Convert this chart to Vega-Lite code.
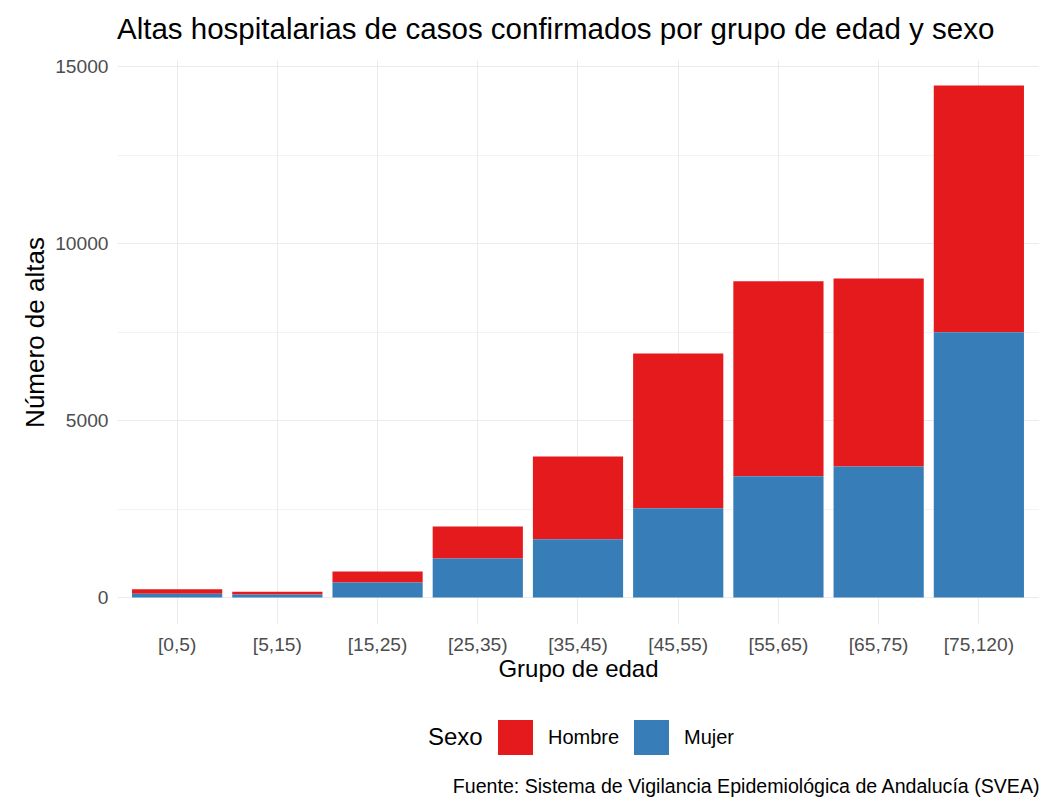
{
  "$schema": "https://vega.github.io/schema/vega-lite/v6.json",
  "autosize": {"type": "none"},
  "padding": {"left": 117, "top": 60, "right": 0, "bottom": 182},
  "width": 922,
  "height": 563,
  "background": "white",
  "config": {
    "font": "Liberation Sans",
    "view": {"stroke": null},
    "axis": {"domain": false, "ticks": false, "labelColor": "#4D4D4D", "labelFontSize": 19.2, "titleFontSize": 24, "titleFontWeight": "normal", "titleColor": "#000000", "gridColor": "#EBEBEB"}
  },
  "title": {
    "text": "Altas hospitalarias de casos confirmados por grupo de edad y sexo",
    "anchor": "start",
    "fontSize": 29.5,
    "fontWeight": "normal",
    "color": "#000000",
    "offset": 12,
    "frame": "group"
  },
  "data": {
    "values": [
      {"grupo": "[0,5)", "sexo": "Hombre", "altas": 130},
      {"grupo": "[0,5)", "sexo": "Mujer", "altas": 100},
      {"grupo": "[5,15)", "sexo": "Hombre", "altas": 80},
      {"grupo": "[5,15)", "sexo": "Mujer", "altas": 80},
      {"grupo": "[15,25)", "sexo": "Hombre", "altas": 310},
      {"grupo": "[15,25)", "sexo": "Mujer", "altas": 420},
      {"grupo": "[25,35)", "sexo": "Hombre", "altas": 900},
      {"grupo": "[25,35)", "sexo": "Mujer", "altas": 1100},
      {"grupo": "[35,45)", "sexo": "Hombre", "altas": 2340},
      {"grupo": "[35,45)", "sexo": "Mujer", "altas": 1640},
      {"grupo": "[45,55)", "sexo": "Hombre", "altas": 4370},
      {"grupo": "[45,55)", "sexo": "Mujer", "altas": 2520},
      {"grupo": "[55,65)", "sexo": "Hombre", "altas": 5510},
      {"grupo": "[55,65)", "sexo": "Mujer", "altas": 3420},
      {"grupo": "[65,75)", "sexo": "Hombre", "altas": 5310},
      {"grupo": "[65,75)", "sexo": "Mujer", "altas": 3700},
      {"grupo": "[75,120)", "sexo": "Hombre", "altas": 6970},
      {"grupo": "[75,120)", "sexo": "Mujer", "altas": 7490}
    ]
  },
  "resolve": {"axis": {"x": "independent"}},
  "layer": [
    {
      "mark": {"type": "bar"},
      "encoding": {
        "x": {
          "field": "grupo", "type": "nominal",
          "sort": ["[0,5)", "[5,15)", "[15,25)", "[25,35)", "[35,45)", "[45,55)", "[55,65)", "[65,75)", "[75,120)"],
          "scale": {"paddingInner": 0.1, "paddingOuter": 0.15},
          "axis": {"title": "Grupo de edad", "labelAngle": 0, "grid": true, "bandPosition": 0.5, "labelPadding": 12, "titlePadding": 3}
        },
        "y": {
          "field": "altas", "type": "quantitative", "aggregate": "sum",
          "stack": "zero",
          "scale": {"domain": [-723, 15183], "nice": false, "zero": false},
          "axis": {
            "title": "Número de altas",
            "titleFontSize": 26,
            "titleY": 272,
            "format": "d",
            "values": [0, 2500, 5000, 7500, 10000, 12500, 15000],
            "labelExpr": "datum.value % 5000 === 0 ? datum.label : ''",
            "gridWidth": {"condition": {"test": "datum.value % 5000 === 0", "value": 1.2}, "value": 0.6},
            "labelPadding": 9,
            "titlePadding": 6
          }
        },
        "color": {
          "field": "sexo", "type": "nominal",
          "scale": {"domain": ["Hombre", "Mujer"], "range": ["#E41A1C", "#377EB8"]},
          "legend": {
            "title": "Sexo", "orient": "none", "legendX": 311, "legendY": 660,
            "direction": "horizontal", "titleOrient": "left", "titleFontSize": 24, "titleFontWeight": "normal", "titleColor": "#000000",
            "labelFontSize": 20, "labelColor": "#000000", "symbolType": "square", "symbolSize": 1225, "symbolStrokeWidth": 0, "symbolOpacity": 1,
            "labelOffset": 15, "columnPadding": 14, "titlePadding": 15
          }
        },
        "order": {"field": "sexo", "sort": "descending"}
      }
    },
    {
      "mark": {"type": "tick", "opacity": 0},
      "encoding": {
        "x": {
          "field": "grupo", "type": "nominal",
          "sort": ["[0,5)", "[5,15)", "[15,25)", "[25,35)", "[35,45)", "[45,55)", "[55,65)", "[65,75)", "[75,120)"],
          "axis": {"orient": "bottom", "labels": false, "grid": false, "title": "Fuente: Sistema de Vigilancia Epidemiológica de Andalucía (SVEA)", "titleAnchor": "end", "titleFontSize": 19.6, "titleY": 163, "titleBaseline": "middle"}
        }
      }
    }
  ]
}
